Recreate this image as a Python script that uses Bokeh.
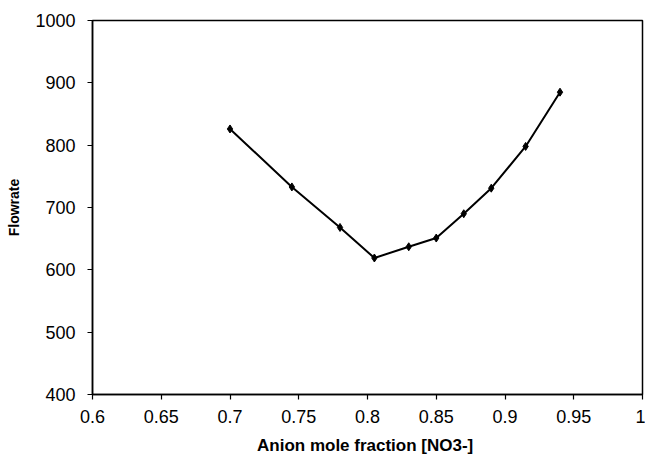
from bokeh.plotting import figure
from bokeh.models import Range1d, FixedTicker
from bokeh.embed import file_html
from bokeh.resources import INLINE

# Data
anion_fraction = [0.70, 0.745, 0.78, 0.805, 0.83, 0.85, 0.87, 0.89, 0.915, 0.94]
flowrate = [826, 733, 668, 619, 637, 651, 690, 731, 798, 885]

x_ticks = [0.6, 0.65, 0.7, 0.75, 0.8, 0.85, 0.9, 0.95, 1.0]
x_tick_labels = ["0.6", "0.65", "0.7", "0.75", "0.8", "0.85", "0.9", "0.95", "1"]
y_ticks = [400, 500, 600, 700, 800, 900, 1000]
y_tick_labels = ["400", "500", "600", "700", "800", "900", "1000"]

FONT = "Liberation Sans"

p = figure(width=645, height=468, output_backend="svg", toolbar_location=None,
           x_range=Range1d(0.6, 1.0), y_range=Range1d(400, 1000),
           min_border_left=92, min_border_top=20, min_border_bottom=74,
           min_border_right=3)

p.background_fill_color = "white"
p.border_fill_color = "white"
p.outline_line_color = "black"
p.outline_line_width = 1.5
p.xgrid.visible = False
p.ygrid.visible = False

p.line(anion_fraction, flowrate, line_color="black", line_width=2)
p.scatter(anion_fraction, flowrate, marker="diamond", size=8,
          fill_color="black", line_color="black")

for ax in (p.xaxis[0], p.yaxis[0]):
    ax.axis_line_color = "black"
    ax.axis_line_width = 1.5
    ax.major_tick_line_color = "black"
    ax.major_tick_line_width = 1.2
    ax.major_tick_in = 0
    ax.major_tick_out = 5
    ax.minor_tick_line_color = None
    ax.major_label_text_font = FONT
    ax.major_label_text_font_size = "18px"
    ax.major_label_text_color = "black"
    ax.axis_label_text_font = FONT
    ax.axis_label_text_font_style = "bold"
    ax.axis_label_text_color = "black"

p.xaxis.ticker = FixedTicker(ticks=x_ticks)
p.xaxis.major_label_overrides = dict(zip(x_ticks, x_tick_labels))
p.yaxis.ticker = FixedTicker(ticks=y_ticks)
p.yaxis.major_label_overrides = dict(zip(y_ticks, y_tick_labels))

p.xaxis.axis_label = "Anion mole fraction  [NO3-]"
p.yaxis.axis_label = "Flowrate"
p.xaxis.axis_label_text_font_size = "17px"
p.yaxis.axis_label_text_font_size = "14px"
p.xaxis.major_label_standoff = 10
p.yaxis.major_label_standoff = 12
p.xaxis.axis_label_standoff = 10
p.yaxis.axis_label_standoff = 10

open("out.html", "w").write(file_html(p, INLINE))
